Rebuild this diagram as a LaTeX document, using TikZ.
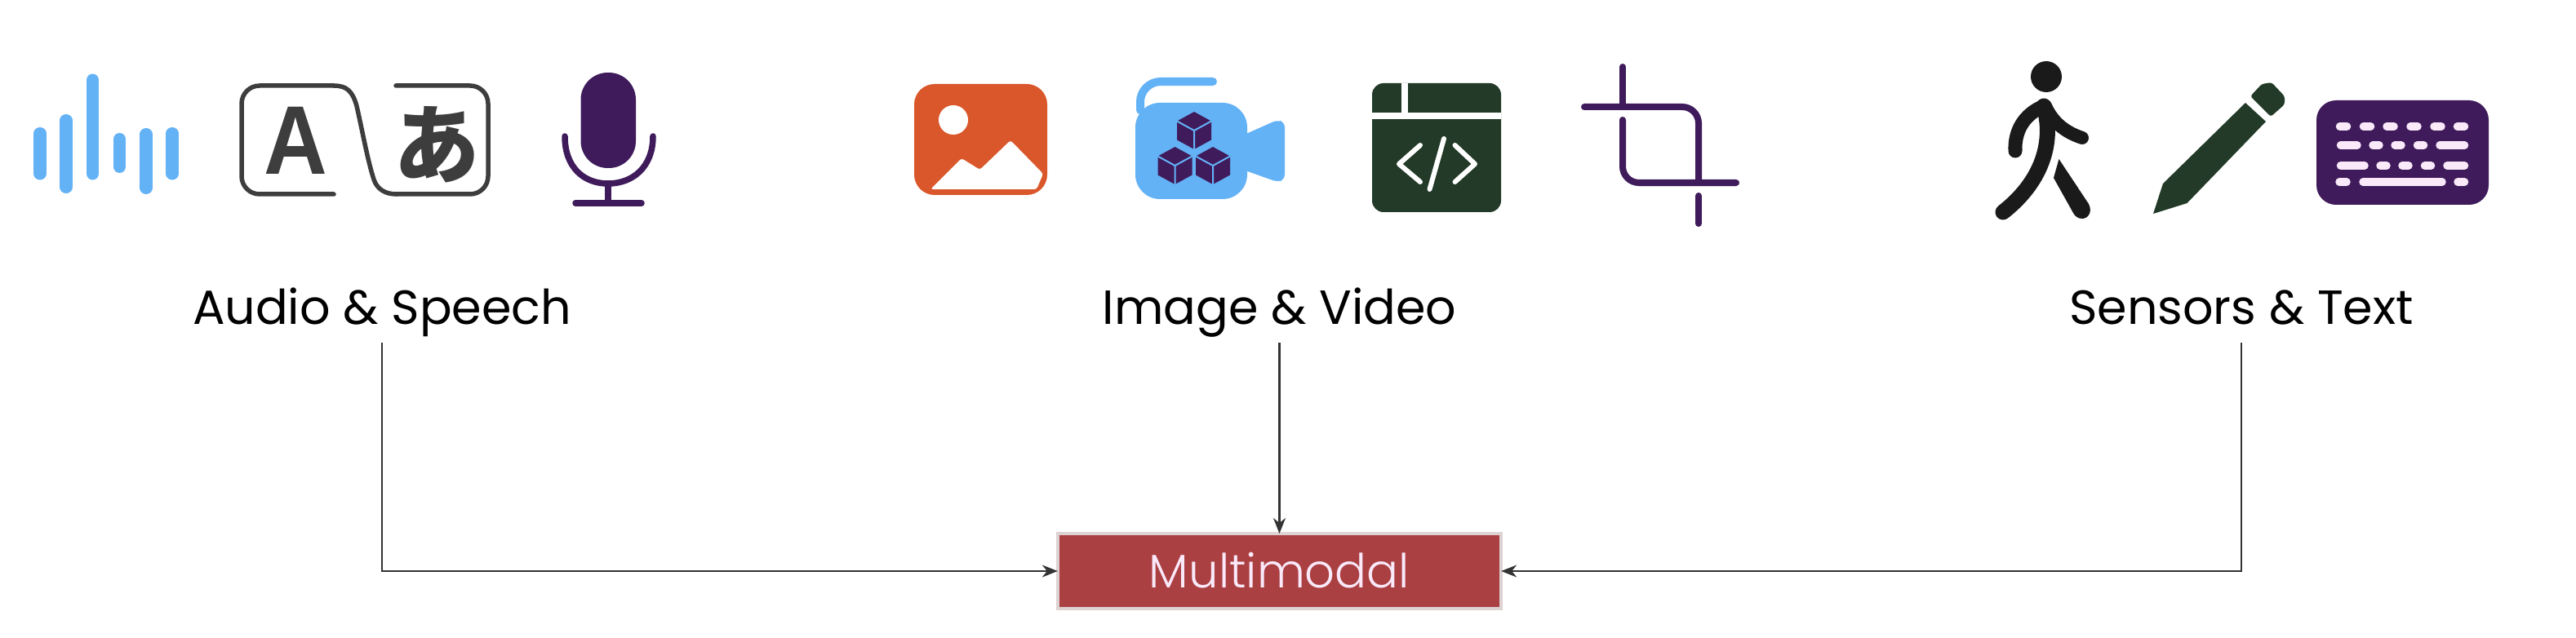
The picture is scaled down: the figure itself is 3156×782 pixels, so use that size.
\documentclass[tikz,border=0pt]{standalone}
\usepackage{fontspec}
\setmainfont{Poppins}
\newfontfamily\lightfont{Poppins Light}
\newfontfamily\glyphfont{Liberation Sans}
\newfontfamily\kanafont{Noto Sans CJK JP}
\usetikzlibrary{arrows.meta}

\definecolor{skyblue}{HTML}{64B2F6}
\definecolor{plum}{HTML}{3F1B5B}
\definecolor{graphite}{HTML}{3D3D3D}
\definecolor{rust}{HTML}{D9572B}
\definecolor{pine}{HTML}{223A27}
\definecolor{walker}{HTML}{1A1A1A}
\definecolor{keypink}{HTML}{F9E9F9}
\definecolor{brick}{HTML}{AB4042}
\definecolor{boxedge}{HTML}{DDD3D3}
\definecolor{wirecol}{HTML}{333333}

\tikzstyle{every picture}+=[>={Stealth[length=0.19cm,width=0.15cm,inset=0.06cm]}]
\tikzstyle{wire}=[draw=wirecol, line width=0.022cm]
\tikzstyle{grouplabel}=[anchor=base, inner sep=0pt, outer sep=0pt, text depth=0.23cm, font=\fontsize{16.7pt}{20pt}\selectfont]
\tikzstyle{targetbox}=[draw=boxedge, fill=brick, line width=0.035cm, outer sep=0pt, inner sep=0pt, minimum width=5.43cm, minimum height=0.92cm, text=keypink, text height=0.41cm, text depth=0pt, font=\lightfont\fontsize{16.4pt}{20pt}\selectfont]
\tikzstyle{wavestroke}=[skyblue, line width=0.15cm, line cap=round]
\tikzstyle{plumstroke}=[plum, line width=0.075cm, line cap=round]
\tikzstyle{graphstroke}=[graphite, line width=0.055cm, line cap=round]
\tikzstyle{whitestroke}=[white, line width=0.06cm, line cap=round, line join=round]
\tikzstyle{keystroke}=[keypink, line width=0.095cm, line cap=round]
\tikzstyle{limb}=[walker, line cap=round, line join=round]

\begin{document}
\begin{tikzpicture}[x=0.01cm, y=-0.01cm]
	\newcommand\wavebar[3]{
		\draw[wavestroke] (#1,#2) -- (#1,#3) ;
	}
	\newcommand\isocube[2]{
		\begin{scope}[shift={(#1,#2)}]
			\fill[plum] (0,-23) -- (21,-11.5) -- (21,11.5) -- (0,23) -- (-21,11.5) -- (-21,-11.5) -- cycle ;
			\draw[skyblue, line width=0.02cm] (-21,-11.5) -- (0,0) -- (21,-11.5) (0,0) -- (0,23) ;
		\end{scope}
	}
	\newcommand\keycap[3]{
		\draw[keystroke] (#1,#3) -- (#2,#3) ;
	}
	\useasboundingbox (0,0) rectangle (3156,782) ;

	\wavebar{49}{163.5}{213}
	\wavebar{81}{147.5}{229.5}
	\wavebar{113.5}{98}{213}
	\wavebar{146.5}{170.5}{204.5}
	\wavebar{179}{164.5}{230.5}
	\wavebar{211}{163.5}{213}

	\draw[graphstroke, rounded corners=0.22cm]
		(409,238) -- (296,238) -- (296,105) -- (409,105) ;
	\draw[graphstroke]
		(409,105) .. controls (425,105) and (432,112) .. (437,130)
		.. controls (445,165) and (450,195) .. (458,220)
		.. controls (462,232) and (472,238) .. (486,238) ;
	\draw[graphstroke, rounded corners=0.22cm]
		(486,238) -- (598,238) -- (598,105) -- (485,105) ;
	\node[graphite, inner sep=0pt, xscale=0.9, font=\glyphfont\bfseries\fontsize{34pt}{34pt}\selectfont] (latinglyph) at (362,172) {A} ;
	\node[graphite, inner sep=0pt, font=\kanafont\bfseries\fontsize{30pt}{30pt}\selectfont] (kanaglyph) at (535,177) {あ} ;

	\fill[plum, rounded corners=0.33cm] (711.5,89) rectangle (779,206) ;
	\draw[plumstroke] (692,167) .. controls (692,205) and (715,225) .. (745,225)
		.. controls (775,225) and (800,205) .. (800,167) ;
	\draw[plumstroke] (745,225) -- (745,249) ;
	\draw[plumstroke] (705,249) -- (786,249) ;

	\fill[rust, rounded corners=0.25cm] (1120,103) rectangle (1283,239) ;
	\fill[white] (1168,147) circle (18) ;
	\fill[white, rounded corners=0.03cm] (1140,232) -- (1178,194) -- (1200.5,208) -- (1238,172) -- (1278,213) -- (1270,232) -- cycle ;

	\draw[skyblue, line width=0.1cm, line cap=round, rounded corners=0.25cm] (1486,100) -- (1397,100) -- (1397,135) ;
	\fill[skyblue, rounded corners=0.3cm] (1391,126) rectangle (1528,244) ;
	\fill[skyblue, rounded corners=0.06cm] (1520,167) -- (1565,147) -- (1574,150) -- (1574,220) -- (1565,223) -- (1520,207) -- cycle ;
	\isocube{1463}{160}
	\isocube{1439.5}{203}
	\isocube{1486}{203}

	\fill[pine, rounded corners=0.14cm] (1681,102) rectangle (1839,260) ;
	\fill[white] (1681,138) rectangle (1839,146) ;
	\fill[white] (1716.5,102) rectangle (1724.5,138) ;
	\draw[whitestroke] (1740,178) -- (1714,201) -- (1740,223) ;
	\draw[whitestroke] (1782.5,178) -- (1807,201) -- (1782.5,223) ;
	\draw[whitestroke] (1769,170) -- (1751.5,232) ;

	\draw[plumstroke, line width=0.08cm] (1988,82) -- (1988,130) ;
	\draw[plumstroke, line width=0.08cm, rounded corners=0.2cm] (1988,147) -- (1988,224) -- (2127,224) ;
	\draw[plumstroke, line width=0.08cm, rounded corners=0.2cm] (1941,131) -- (2081,131) -- (2081,224) ;
	\draw[plumstroke, line width=0.08cm] (2081,240) -- (2081,274) ;

	\fill[walker] (2507,94) circle (19) ;
	\draw[limb, line width=0.17cm] (2504,130) .. controls (2480,140) and (2468,160) .. (2469,185) ;
	\draw[limb, line width=0.19cm] (2504,130) .. controls (2516,170) and (2505,220) .. (2454,260) ;
	\draw[limb, line width=0.16cm] (2506,130) .. controls (2515,150) and (2530,162) .. (2551,169) ;
	\fill[walker] (2522.5,195) -- (2559,250) .. controls (2564,260) and (2558,268) .. (2551,268)
		.. controls (2546,268) and (2542,265) .. (2540,261) -- (2516,218) -- cycle ;

	\fill[pine] (2638,262) -- (2650,225) -- (2751,126) -- (2776,149) -- (2679.5,249) -- cycle ;
	\fill[pine, rounded corners=0.03cm] (2757,118) -- (2771,103) -- (2783,101) -- (2799,118) -- (2799,128) -- (2782,143) -- cycle ;

	\fill[plum, rounded corners=0.24cm] (2838,123) rectangle (3049,251) ;
	\keycap{2866.5}{2875.5}{155}
	\keycap{2895.5}{2904.5}{155}
	\keycap{2924}{2933}{155}
	\keycap{2953}{2962}{155}
	\keycap{2982}{2991}{155}
	\keycap{3010.5}{3019.5}{155}
	\keycap{2867.5}{2888}{178}
	\keycap{2907}{2915}{178}
	\keycap{2934}{2942}{178}
	\keycap{2961.5}{2969.5}{178}
	\keycap{2989}{3019.5}{178}
	\keycap{2867.5}{2897}{203}
	\keycap{2916}{2924}{203}
	\keycap{2943}{2951}{203}
	\keycap{2970.5}{2978.5}{203}
	\keycap{2998}{3019.5}{203}
	\keycap{2866}{2875}{223}
	\keycap{2895}{2992}{223}
	\keycap{3011}{3019.5}{223}

	\node[grouplabel] (audio) at (468,397) {Audio \& Speech} ;
	\node[grouplabel] (imagevideo) at (1567.5,397) {Image \& Video} ;
	\node[grouplabel] (sensors) at (2746,397) {Sensors \& Text} ;
	\node[targetbox] (multimodal) at (1567.5,700) {Multimodal} ;

	\draw[wire, ->] (audio.south) |- (multimodal.west) ;
	\draw[wire, ->] (imagevideo.south) -- (multimodal.north) ;
	\draw[wire, ->] (sensors.south) |- (multimodal.east) ;
\end{tikzpicture}
\end{document}
